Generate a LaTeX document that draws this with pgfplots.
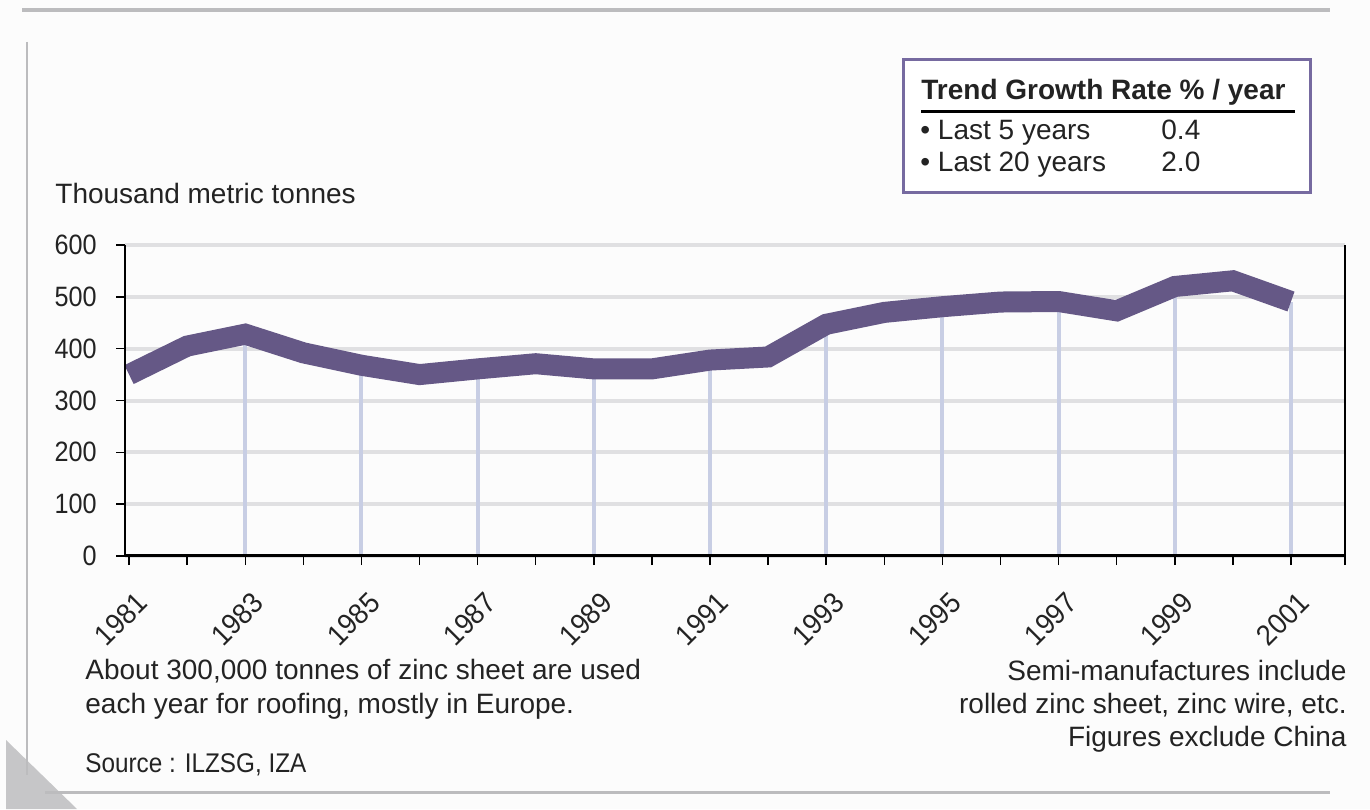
\documentclass[border=0pt]{standalone}
\usepackage{fontspec}
\setmainfont{Liberation Sans}
\newfontfamily\ticknarrow[FakeStretch=0.9]{Liberation Sans}
\newfontfamily\yearfont[FakeStretch=0.93]{Liberation Sans}
\usepackage{pgfplots}
\usepackage{pgfplotstable}
\pgfplotsset{compat=1.18}

\definecolor{zincline}{RGB}{101,88,134}
\definecolor{dropline}{RGB}{200,206,228}
\definecolor{gridgray}{RGB}{224,224,226}
\definecolor{framegray}{RGB}{198,198,200}
\definecolor{boxpurple}{RGB}{118,106,160}
\definecolor{pagebg}{RGB}{252,252,252}
\definecolor{ink}{RGB}{35,35,35}

% Consumption of zinc semi-manufactures, thousand metric tonnes
\pgfplotstableread{
year value
1981 350
1982 405
1983 428
1984 392
1985 368
1986 350
1987 361
1988 371
1989 361
1990 361
1991 378
1992 384
1993 447
1994 470
1995 481
1996 490
1997 491
1998 473
1999 520
2000 531
2001 491
}\semis

% the same values at the labelled (odd) years, for the drop lines
\pgfplotstableread{
year value
1983 428
1985 368
1987 361
1989 361
1991 378
1993 447
1995 481
1997 491
1999 520
2001 491
}\oddyears

\begin{document}
\begin{tikzpicture}
\useasboundingbox (0,0) rectangle (685pt,404.5pt);
\fill[pagebg] (0,0) rectangle (685pt,404.5pt);

% page frame
\fill[framegray] (3pt,34.5pt) -- (3pt,0pt) -- (38.5pt,0pt) -- cycle;
\draw[framegray!95!black, line width=2pt] (11pt,399.5pt) -- (665pt,399.5pt);
\draw[framegray!95!black, line width=1pt] (13.5pt,383.5pt) -- (13.5pt,17pt);
\draw[framegray!95!black, line width=1.5pt] (22.5pt,8.5pt) -- (665pt,8.5pt);

\begin{axis}[
  name=ax,
  at={(62.5pt,126.5pt)}, anchor=south west,
  scale only axis, width=610pt, height=155.5pt,
  xmin=1980.93, xmax=2001.93, ymin=0, ymax=600,
  ytick={0,100,...,600},
  xtick={1981,1983,...,2001},
  minor xtick={1982,1984,...,2000,2001.93},
  x tick label style={/pgf/number format/1000 sep={}},
  tick align=outside, xtick pos=bottom, ytick pos=left,
  major tick length=4.5pt, minor tick length=4.5pt,
  tick style={black, line width=0.75pt},
  axis line style={draw=none},
  ymajorgrids, grid style={gridgray, line width=2pt},
  /pgf/number format/assume math mode=true,
  yticklabel style={font=\ticknarrow\fontsize{14}{16}\selectfont, text=ink,
    anchor=east, inner sep=0pt, xshift=-9.5pt},
  xticklabel style={font=\yearfont\fontsize{14.5}{16}\selectfont, text=ink,
    inner sep=0pt, anchor=center, xshift=-4pt, yshift=-27pt, rotate=45},
]
\addplot[ycomb, dropline, line width=2pt, mark=none]
  table[x=year, y=value] {\oddyears};
\addplot[zincline, line width=10.5pt, line join=miter, line cap=butt, mark=none]
  table[x=year, y=value] {\semis};
\end{axis}

% axis lines: left, right and a heavier baseline
\draw[black, line width=0.75pt] (ax.south west) -- (ax.north west);
\draw[black, line width=0.75pt] (ax.south east) -- (ax.north east);
\draw[black, line width=1.5pt] (ax.south west) -- (ax.south east);

\node[anchor=base west, inner sep=0pt, text=ink, font=\fontsize{14}{16}\selectfont]
  at (27.5pt,302.5pt) {Thousand metric tonnes};

% trend box
\draw[boxpurple, fill=white, line width=1.5pt] (451.5pt,374.5pt) rectangle (655pt,308pt);
\node[anchor=base west, inner sep=0pt, text=ink, font=\bfseries\fontsize{14}{16}\selectfont]
  at (460.5pt,354.5pt) {Trend Growth Rate \% / year};
\draw[black, line width=1.5pt] (460.5pt,348.5pt) -- (647.5pt,348.5pt);
\node[anchor=base west, inner sep=0pt, text=ink, font=\fontsize{14}{16}\selectfont]
  at (460pt,334.5pt) {• Last 5 years};
\node[anchor=base west, inner sep=0pt, text=ink, font=\fontsize{14}{16}\selectfont]
  at (580.5pt,334.5pt) {0.4};
\node[anchor=base west, inner sep=0pt, text=ink, font=\fontsize{14}{16}\selectfont]
  at (460pt,318.5pt) {• Last 20 years};
\node[anchor=base west, inner sep=0pt, text=ink, font=\fontsize{14}{16}\selectfont]
  at (580.5pt,318.5pt) {2.0};

% notes
\node[anchor=base west, inner sep=0pt, text=ink, font=\fontsize{14}{16}\selectfont]
  at (42.5pt,65pt) {About 300,000 tonnes of zinc sheet are used};
\node[anchor=base west, inner sep=0pt, text=ink, font=\fontsize{14}{16}\selectfont]
  at (42.5pt,48pt) {each year for roofing, mostly in Europe.};
\node[anchor=base west, inner sep=0pt, text=ink, font=\ticknarrow\fontsize{13.5}{16}\selectfont]
  at (42.5pt,18.5pt) {Source : ILZSG, IZA};

\node[anchor=base east, inner sep=0pt, text=ink, font=\fontsize{14}{16}\selectfont]
  at (673.5pt,64.5pt) {Semi-manufactures include};
\node[anchor=base east, inner sep=0pt, text=ink, font=\fontsize{14}{16}\selectfont]
  at (673.5pt,48pt) {rolled zinc sheet, zinc wire, etc.};
\node[anchor=base east, inner sep=0pt, text=ink, font=\fontsize{14}{16}\selectfont]
  at (673.5pt,31.5pt) {Figures exclude China};
\end{tikzpicture}
\end{document}
